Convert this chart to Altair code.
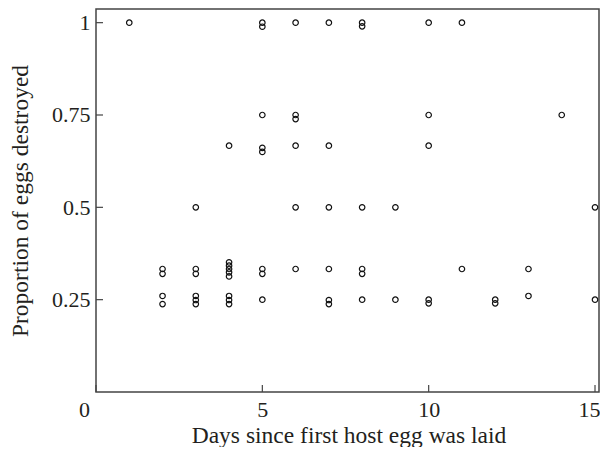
import altair as alt
import pandas as pd

# ---- data ----
days = [1,
        2, 2, 2, 2,
        3, 3, 3, 3, 3, 3,
        4, 4, 4, 4, 4, 4, 4, 4, 4,
        5, 5, 5, 5, 5, 5, 5, 5,
        6, 6, 6, 6, 6, 6,
        7, 7, 7, 7, 7, 7,
        8, 8, 8, 8, 8, 8,
        9, 9,
        10, 10, 10, 10, 10,
        11, 11,
        12, 12,
        13, 13,
        14,
        15, 15]
proportion = [1.0,
              0.333, 0.32, 0.26, 0.238,
              0.5, 0.333, 0.32, 0.26, 0.249, 0.238,
              0.667, 0.351, 0.342, 0.333, 0.324, 0.313, 0.26, 0.249, 0.238,
              1.0, 0.989, 0.75, 0.661, 0.65, 0.333, 0.32, 0.25,
              1.0, 0.75, 0.739, 0.667, 0.5, 0.333,
              1.0, 0.667, 0.5, 0.333, 0.249, 0.238,
              1.0, 0.99, 0.5, 0.333, 0.32, 0.25,
              0.5, 0.25,
              1.0, 0.75, 0.667, 0.25, 0.24,
              1.0, 0.333,
              0.25, 0.24,
              0.333, 0.26,
              0.75,
              0.5, 0.25]
x_ticks = [0, 5, 10, 15]
y_ticks = [0.25, 0.5, 0.75, 1]

pts = pd.DataFrame({"days": days, "prop": proportion})
xt = pd.DataFrame({"t": x_ticks})
yt = pd.DataFrame({"t": y_ticks})

FONT = "Liberation Serif"
TXT = "#231f20"
AX = "#444444"
W, H = 503, 383

xscale = alt.Scale(domain=[0, 15.12], nice=False, zero=False)
yscale = alt.Scale(domain=[0, 1.037], nice=False, zero=False)

points = alt.Chart(pts).mark_point(
    shape="circle", filled=False, size=30, strokeWidth=1.2, color="#111111", opacity=1
).encode(
    x=alt.X("days:Q", scale=xscale, axis=alt.Axis(
        values=x_ticks, title="Days since first host egg was laid",
        domain=False, ticks=False, tickSize=0, grid=False,
        labelFont=FONT, labelFontSize=22, labelColor=TXT, labelPadding=7,
        labelFlush=False,
        labelOffset={"condition": [{"test": "datum.value == 0", "value": -12},
                                   {"test": "datum.value == 15", "value": -6}],
                     "value": 0},
        titleFont=FONT, titleFontSize=23.5, titleFontWeight="normal", titleColor=TXT,
        titleBaseline="alphabetic", titleY=50, titleX=W / 2 + 1,
    )),
    y=alt.Y("prop:Q", scale=yscale, axis=alt.Axis(
        values=y_ticks, title="Proportion of eggs destroyed",
        labelExpr="datum.value == 1 ? '1' : format(datum.value, '.2~f')",
        domain=False, ticks=False, tickSize=0, grid=False,
        labelFont=FONT, labelFontSize=22, labelColor=TXT, labelPadding=6,
        labelFlush=False,
        titleFont=FONT, titleFontSize=23.5, titleFontWeight="normal", titleColor=TXT,
        titleBaseline="alphabetic", titleX=-69, titleY=H / 2,
    )),
)

xticks = alt.Chart(xt).mark_rule(color=AX, strokeWidth=1.2).encode(
    x=alt.X("t:Q", scale=xscale),
    y=alt.value(H),
    y2=alt.value(H - 7),
)
yticks = alt.Chart(yt).mark_rule(color=AX, strokeWidth=1.2).encode(
    y=alt.Y("t:Q", scale=yscale),
    x=alt.value(0),
    x2=alt.value(7),
)

chart = alt.layer(points, xticks, yticks).properties(
    width=W, height=H,
    autosize=alt.AutoSizeParams(type="none"),
    padding={"left": 88, "top": 1, "right": 1, "bottom": 55},
).configure_view(
    stroke=AX, strokeWidth=1.5
)

chart.save("out.html", embed_options={"renderer": "svg", "actions": False})
